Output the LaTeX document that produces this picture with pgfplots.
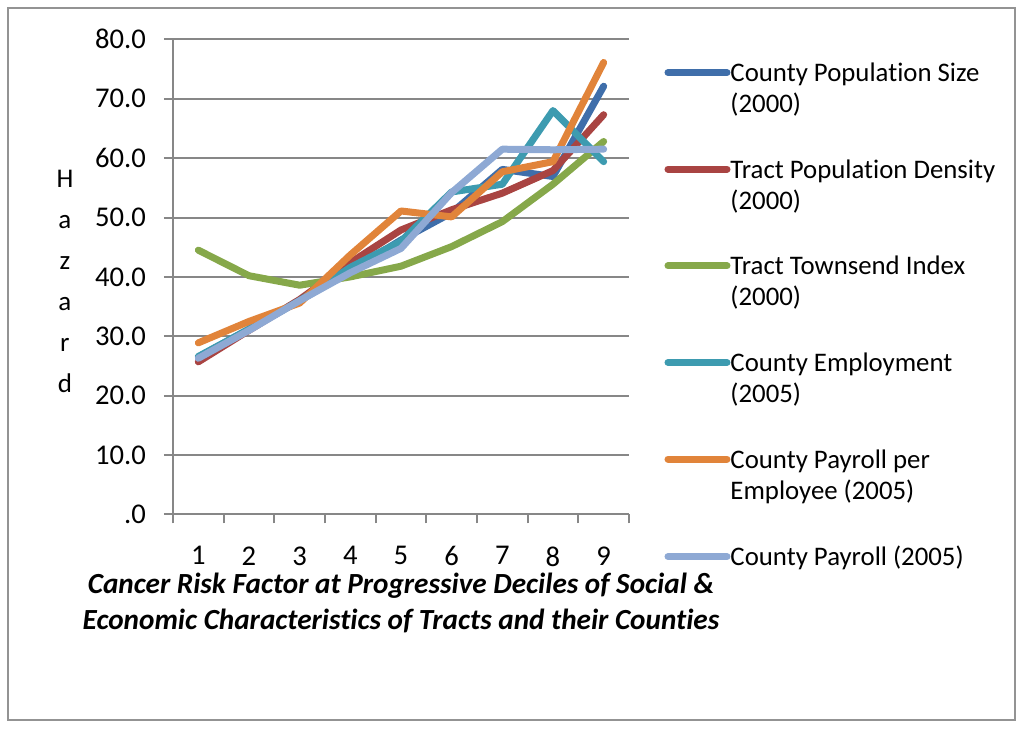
\documentclass[border=0pt]{standalone}
\usepackage{pgfplots}
\pgfplotsset{compat=1.18}
\usepackage{fontspec}
\setmainfont{Carlito}[Ligatures={NoCommon}]
\definecolor{cBlue}{HTML}{3F6EAA}
\definecolor{cRed}{HTML}{A94442}
\definecolor{cGreen}{HTML}{86A84A}
\definecolor{cTeal}{HTML}{3D9BB0}
\definecolor{cOrange}{HTML}{E1843A}
\definecolor{cLight}{HTML}{8EA9D4}
\definecolor{cGrid}{HTML}{878787}
\begin{document}
\begin{tikzpicture}
\useasboundingbox (0,0) rectangle (512pt,364.5pt);
\draw[color=cGrid!90, line width=1.2pt] (4pt,4.5pt) rectangle (507.5pt,360.5pt);
\begin{axis}[
  at={(86.5pt,107.25pt)}, anchor=south west,
  scale only axis, width=228pt, height=237.6pt,
  xmin=0.5, xmax=9.5, ymin=0, ymax=80,
  axis x line=bottom, axis y line=left,
  axis line style={-, draw=cGrid, line width=1pt},
  tick align=outside,
  xtick={1,2,3,4,5,6,7,8,9},
  xticklabels={1,2,3,4,5,6,7,8,9},
  minor xtick={0.5,1.5,...,9.5},
  major x tick style={draw=none},
  minor x tick style={draw=cGrid, line width=1pt},
  minor tick length=4.5pt,
  ytick={0,10,20,30,40,50,60,70,80},
  yticklabels={.0,10.0,20.0,30.0,40.0,50.0,60.0,70.0,80.0},
  major y tick style={draw=cGrid, line width=1pt},
  major tick length=4.5pt,
  ymajorgrids,
  grid style={draw=cGrid, line width=1pt},
  tick label style={font=\fontsize{14.3}{16}\selectfont},
  xticklabel style={yshift=-8pt},
  yticklabel style={xshift=-5.5pt},
  ylabel={H\\a\\z\\a\\r\\d},
  ylabel style={at={(axis description cs:-0.237,0.491)}, rotate=-90, anchor=center, align=center, font=\fontsize{13.5}{20.5}\selectfont},
  xlabel={Cancer Risk Factor at Progressive Deciles of Social \&\\Economic Characteristics of Tracts and their Counties},
  xlabel style={at={(axis description cs:0.5,-0.186)}, anchor=center, align=center, font=\fontsize{14.6}{18}\selectfont\bfseries\itshape},
  clip=false,
  every axis plot/.append style={line width=3.5pt, line cap=round, line join=round},
  legend image code/.code={\draw[#1, line cap=round] (-0.5pt,4.5pt) -- (29pt,4.5pt);},
  legend style={at={(axis description cs:1.077,0.951)}, anchor=north west, draw=none, fill=none, inner sep=0pt,
    font=\fontsize{13.4}{15.5}\selectfont, row sep=37.5pt, column sep=0pt,
    nodes={inner sep=0pt, text width=145pt, align=flush left, anchor=base west}},
]
\addplot[color=cBlue] coordinates {(1,26.5) (2,31.2) (3,36.0) (4,41.0) (5,46.2) (6,50.8) (7,58.1) (8,56.9) (9,72.1)};
\addlegendentry{County Population Size\\(2000)}
\addplot[color=cRed] coordinates {(1,25.7) (2,31.0) (3,36.2) (4,42.4) (5,47.9) (6,51.3) (7,54.1) (8,57.9) (9,67.3)};
\addlegendentry{Tract Population Density\\(2000)}
\addplot[color=cGreen] coordinates {(1,44.5) (2,40.2) (3,38.6) (4,40.0) (5,41.8) (6,45.1) (7,49.3) (8,55.6) (9,62.8)};
\addlegendentry{Tract Townsend Index\\(2000)}
\addplot[color=cTeal] coordinates {(1,26.6) (2,31.2) (3,36.0) (4,41.6) (5,46.0) (6,54.3) (7,55.6) (8,68.0) (9,59.4)};
\addlegendentry{County Employment\\(2005)}
\addplot[color=cOrange] coordinates {(1,28.9) (2,32.5) (3,35.6) (4,43.7) (5,51.1) (6,50.1) (7,57.7) (8,59.4) (9,76.1)};
\addlegendentry{County Payroll per\\Employee (2005)}
\addplot[color=cLight] coordinates {(1,26.3) (2,31.0) (3,36.0) (4,40.7) (5,44.8) (6,54.2) (7,61.5) (8,61.4) (9,61.5)};
\addlegendentry{County Payroll (2005)}
\end{axis}
\end{tikzpicture}
\end{document}
